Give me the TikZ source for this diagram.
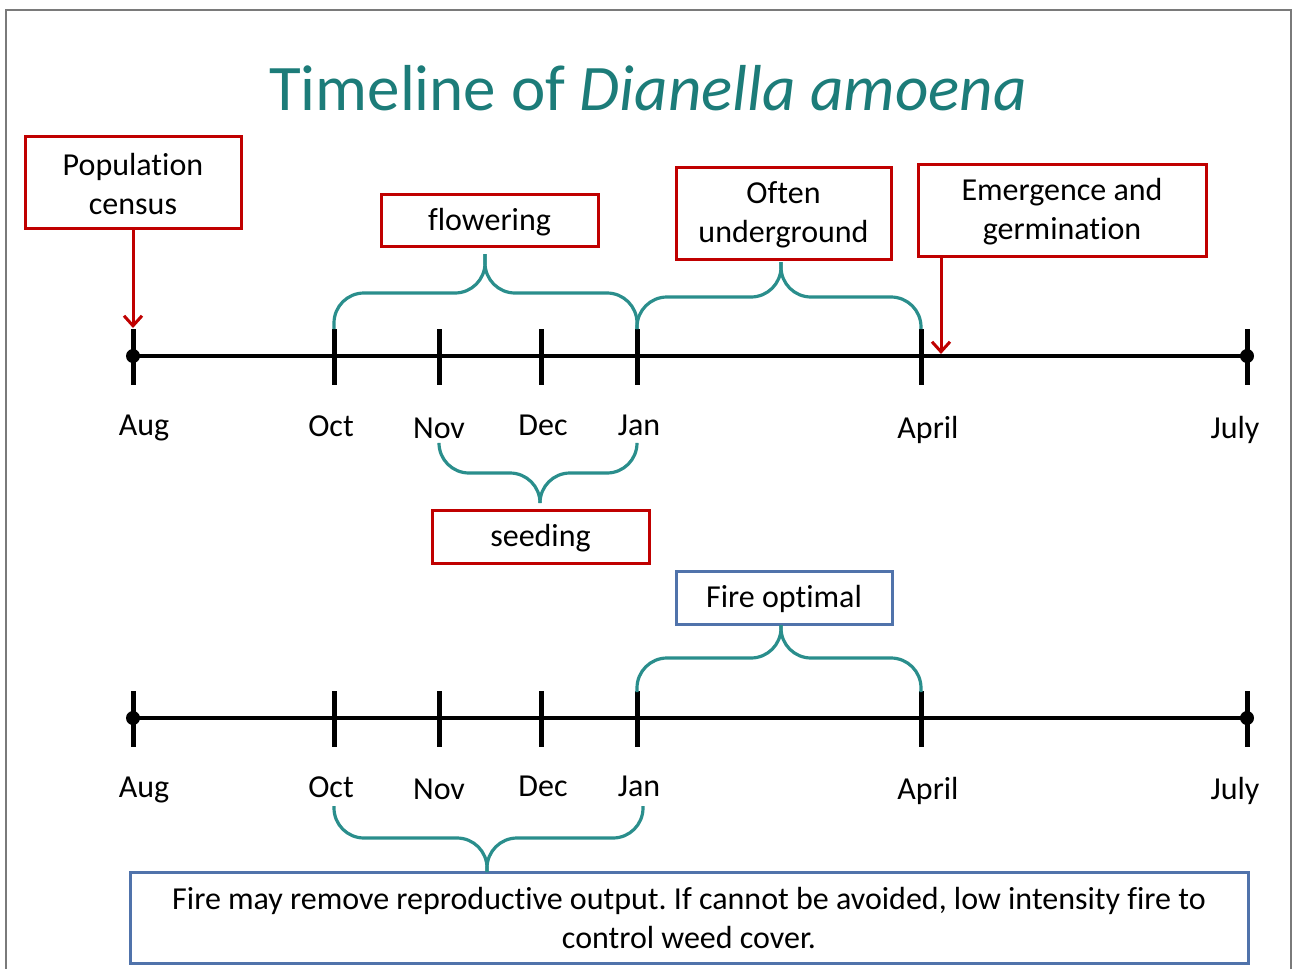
\documentclass[tikz,border=0pt]{standalone}
\usepackage{fontspec}
\setmainfont{Carlito}[Ligatures={NoCommon}]
\frenchspacing
\usetikzlibrary{arrows.meta}
\definecolor{boxred}{HTML}{C00000}
\definecolor{boxblue}{HTML}{5073AB}
\definecolor{bracecol}{HTML}{2A8E8C}
\definecolor{titlecol}{HTML}{1C7C79}
\definecolor{framegray}{HTML}{7A7A7A}

% curly brace: ends (x1,yb) and (x2,yb), bar at yl, tip at (xm,ytip)
\newcommand\tlbrace[6]{%
  \draw[bracepath] (#1,#3) -- (#1,#4) -- (#6,#4) -- (#6,#5);
  \draw[bracepath] (#2,#3) -- (#2,#4) -- (#6,#4) -- (#6,#5);
}

\begin{document}
\begin{tikzpicture}[x=1pt,y=-1pt,
  txt/.style={font=\fontsize{32pt}{39pt}\selectfont, text=black},
  redbox/.style={txt, draw=boxred, line width=3pt, inner sep=0pt, align=center},
  bluebox/.style={txt, draw=boxblue, line width=3pt, inner sep=0pt, align=center},
  boxlabel/.style={txt, align=center, inner sep=0pt},
  axisline/.style={line width=4.5pt, black},
  tickmark/.style={line width=5pt, black},
  enddot/.style={circle, fill=black, inner sep=0pt, minimum size=14pt},
  bracepath/.style={draw=bracecol, line width=3.2pt, rounded corners=30pt},
  pointer/.style={draw=boxred, line width=3pt, -{Straight Barb[length=10pt,width=18pt,line width=3pt]}},
  month/.style={txt, anchor=base},
  frameline/.style={draw=framegray, line width=1.5pt}
]
\useasboundingbox (0,0) rectangle (1293,969);
\fill[white] (0,0) rectangle (1293,969);
\draw[frameline] (6,969) -- (6,10) -- (1291,10) -- (1291,969);

% title
\node[anchor=base, text=titlecol, font=\fontsize{65pt}{70pt}\selectfont] (title) at (648,110)
  {Timeline of \textit{Dianella amoena}};

% ---- upper timeline ----
\coordinate (u-aug) at (133,356);
\coordinate (u-jul) at (1247,356);
\draw[axisline] (u-aug) -- (u-jul);
\foreach \x in {133,334,439,541,637,921,1247}{
  \draw[tickmark] (\x,329) -- (\x,385);
}
\node[month] (ul-aug) at (144,435) {Aug};
\node[month] (ul-oct) at (331,436) {Oct};
\node[month] (ul-nov) at (439,438) {Nov};
\node[month] (ul-dec) at (543,435) {Dec};
\node[month] (ul-jan) at (639,435) {Jan};
\node[month] (ul-apr) at (928,438) {April};
\node[month] (ul-jul) at (1235,438) {July};
\node[enddot] (ud-aug) at (u-aug) {};
\node[enddot] (ud-jul) at (u-jul) {};

% ---- lower timeline ----
\coordinate (l-aug) at (133,718);
\coordinate (l-jul) at (1247,718);
\draw[axisline] (l-aug) -- (l-jul);
\foreach \x in {133,334,439,541,637,921,1247}{
  \draw[tickmark] (\x,691) -- (\x,747);
}
\node[month] (ll-aug) at (144,797) {Aug};
\node[month] (ll-oct) at (331,797) {Oct};
\node[month] (ll-nov) at (439,799) {Nov};
\node[month] (ll-dec) at (543,796) {Dec};
\node[month] (ll-jan) at (639,796) {Jan};
\node[month] (ll-apr) at (928,799) {April};
\node[month] (ll-jul) at (1235,799) {July};
\node[enddot] (ld-aug) at (l-aug) {};
\node[enddot] (ld-jul) at (l-jul) {};

% ---- boxes (frames, then their text set a little low) ----
\node[redbox, minimum width=216pt, minimum height=92pt] (census) at (133,182) {};
\node[redbox, minimum width=217pt, minimum height=52pt] (flower) at (489.5,220) {};
\node[redbox, minimum width=215pt, minimum height=92pt] (under) at (783.5,213) {};
\node[redbox, minimum width=288pt, minimum height=92pt] (emerge) at (1062,210) {};
\node[redbox, minimum width=217pt, minimum height=53pt] (seed) at (540.5,536.5) {};
\node[bluebox, minimum width=216pt, minimum height=53pt] (fireopt) at (784,597.5) {};
\node[bluebox, minimum width=1118pt, minimum height=91pt] (firemay) at (689,917.5) {};

\node[boxlabel] (census-t) at ([yshift=-2pt]census.center) {Population\\census};
\node[boxlabel] (flower-t) at ([yshift=-2pt]flower.center) {flowering};
\node[boxlabel] (under-t) at ([yshift=-2pt]under.center) {Often\\underground};
\node[boxlabel] (emerge-t) at ([yshift=-2pt]emerge.center) {Emergence and\\germination};
\node[boxlabel] (seed-t) at ([yshift=-2pt]seed.center) {seeding};
\node[boxlabel] (fireopt-t) at ([yshift=-1pt]fireopt.center) {Fire optimal};
\node[boxlabel] (firemay-t) at ([yshift=-1pt]firemay.center)
  {Fire may remove reproductive output. If cannot be avoided, low intensity fire to\\control weed cover.};

% ---- pointers ----
\coordinate (censusat) at (133,328);
\coordinate (germat) at (941,354);
\draw[pointer] (census.south) -- (censusat);
\draw[pointer] (emerge.south -| germat) -- (germat);

% ---- braces ----
\tlbrace{334}{637}{329}{293}{254}{485}
\tlbrace{637}{921}{329}{297}{262}{781}
\tlbrace{439}{637}{445}{473}{503}{540}
\tlbrace{637}{921}{692}{658}{625}{781}
\tlbrace{334}{643}{806}{838}{872}{487}
\end{tikzpicture}
\end{document}
